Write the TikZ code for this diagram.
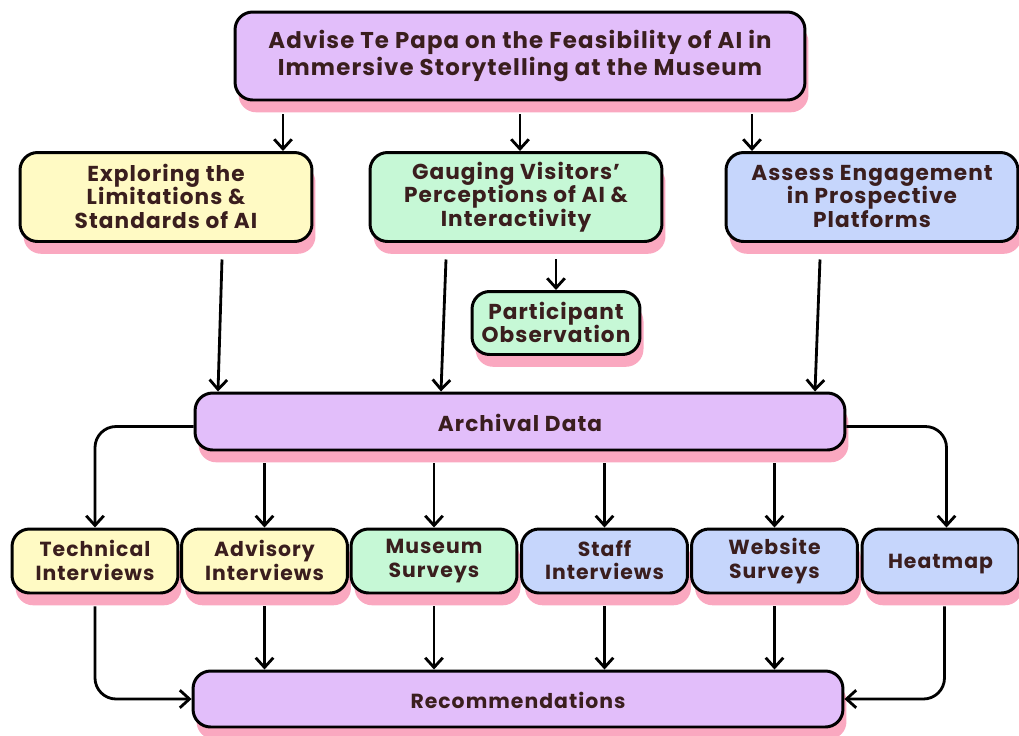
\documentclass[tikz,border=0pt]{standalone}
\usepackage{fontspec}
\setmainfont{Poppins}[LetterSpace=5]
\usetikzlibrary{arrows.meta,shadows,calc}
\definecolor{lilac}{RGB}{226,190,250}
\definecolor{lemon}{RGB}{255,250,196}
\definecolor{mint}{RGB}{198,248,214}
\definecolor{sky}{RGB}{198,214,252}
\definecolor{blush}{RGB}{250,168,192}
\definecolor{ink}{RGB}{58,30,30}

\begin{document}
\begin{tikzpicture}[x=0.02cm, y=-0.02cm,
  box/.style={draw=black, line width=1.7pt, rounded corners=10pt, text=ink,
    font=\bfseries\fontsize{12.3}{13.4}\selectfont, align=center, inner sep=0pt,
    execute at begin node={\rule{0pt}{12pt}}, execute at end node={\rule[-1pt]{0pt}{1pt}},
    general shadow={fill=blush, shadow xshift=2pt, shadow yshift=-7pt}},
  wide/.style={box, minimum width=5.84cm, minimum height=1.78cm},
  small/.style={box, minimum width=3.32cm, minimum height=1.28cm,
    font=\bfseries\fontsize{11.6}{13.4}\selectfont},
  arr/.style={-{Straight Barb[length=5.5pt,width=10pt]}, line width=1.6pt, rounded corners=12pt}
  ]
  \useasboundingbox (0,0) rectangle (1019,735);

  % aim
  \node[box, fill=lilac, minimum width=11.4cm, minimum height=1.76cm,
    font=\bfseries\fontsize{13}{13.6}\selectfont] (aim) at (520,56)
    {Advise Te Papa on the Feasibility of AI in\\Immersive Storytelling at the Museum};

  % objectives
  \node[wide, fill=lemon] (expl) at (166,197) {Exploring the\\Limitations \&\\Standards of AI};
  \node[wide, fill=mint] (gaug) at (516,197) {Gauging Visitors’\\Perceptions of AI \&\\Interactivity};
  \node[wide, fill=sky] (asse) at (872,197) {Assess Engagement\\in Prospective\\Platforms};
  \node[box, fill=mint, minimum width=3.36cm, minimum height=1.26cm] (part) at (556,323)
    {Participant\\Observation};

  \node[box, fill=lilac, minimum width=13cm, minimum height=1.14cm] (arch) at (520,421.5) {Archival Data};

  % methods
  \node[small, fill=lemon] (tech) at (95,561) {Technical\\Interviews};
  \node[small, fill=lemon] (advi) at (264.5,561) {Advisory\\Interviews};
  \node[small, fill=mint] (muse) at (434,561) {Museum\\Surveys};
  \node[small, fill=sky] (staf) at (604.5,561) {Staff\\Interviews};
  \node[small, fill=sky] (webs) at (774.5,561) {Website\\Surveys};
  \node[small, fill=sky, minimum width=3.14cm] (heat) at (940.5,561) {Heatmap};

  \node[box, fill=lilac, minimum width=13cm, minimum height=1.12cm,
    font=\bfseries\fontsize{11.6}{13.4}\selectfont] (reco) at (518,699) {Recommendations};

  % aim to objectives
  \draw[arr] ($(aim.south)+(-237,13)$) -- ($(expl.north)+(117,0)$);
  \draw[arr] ($(aim.south)+(0,13)$) -- (aim.south |- gaug.north);
  \draw[arr] ($(aim.south)+(232,13)$) -- ($(asse.north)+(-120,0)$);
  \draw[arr] ($(gaug.south)+(40,16.5)$) -- (part.north);

  % objectives to archival data
  \draw[arr] ($(expl.south)+(56,16.5)$) -- ($(arch.north)+(-302,0)$);
  \draw[arr] ($(gaug.south)+(-70,16.5)$) -- ($(arch.north)+(-79,0)$);
  \draw[arr] ($(asse.south)+(-52,16.5)$) -- ($(arch.north)+(295,0)$);

  % archival data to methods
  \draw[arr] ($(arch.west)+(0,5)$) -| (tech.north);
  \foreach \m in {advi,muse,staf,webs}
    \draw[arr] ($(arch.south -| \m.north)+(0,12)$) -- (\m.north);
  \draw[arr] ($(arch.east)+(0,5)$) -| ($(heat.north)+(6,0)$);

  % methods to recommendations
  \draw[arr] ($(tech.south)+(0,12)$) |- (reco.west);
  \foreach \m in {advi,muse,staf,webs}
    \draw[arr] ($(\m.south)+(0,12)$) -- (\m.south |- reco.north);
  \draw[arr] ($(heat.south)+(4,12)$) |- (reco.east);
\end{tikzpicture}
\end{document}
